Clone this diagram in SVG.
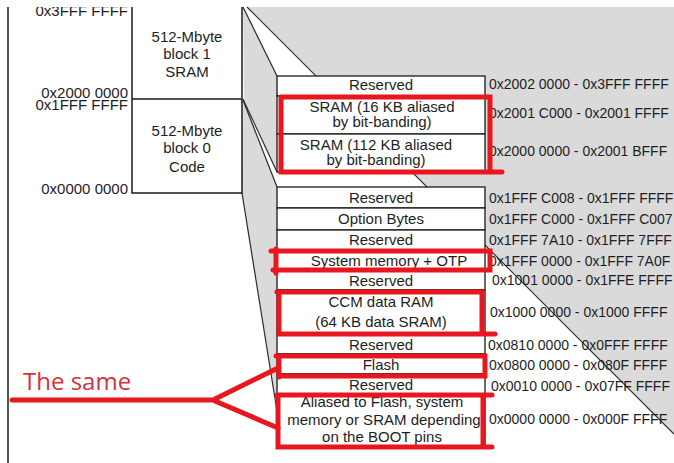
<svg xmlns="http://www.w3.org/2000/svg" width="674" height="463" viewBox="0 0 674 463">
<defs>
<style>
.t{font-family:"Liberation Sans",Arial,sans-serif;font-size:15px;fill:#1e1e1e;text-anchor:middle}
.lbl{font-family:"Liberation Sans",Arial,sans-serif;font-size:15px;fill:#1e1e1e;text-anchor:end}
.ad{font-family:"Liberation Sans",Arial,sans-serif;font-size:14px;fill:#1e1e1e}
.box{fill:#ffffff;stroke:#1a1a1a;stroke-width:1.3}
.ln{stroke:#2a2a2a;stroke-width:1.2;fill:none}
.frame{stroke:#1a1a1a;stroke-width:1.5;fill:none}
.red{stroke:#e8161e;stroke-width:5;fill:none;stroke-linecap:round;stroke-linejoin:miter}
.gray{fill:#dadada}
</style>
<clipPath id="topclip"><rect x="0" y="7" width="674" height="456"/></clipPath>
</defs>
<rect x="0" y="0" width="674" height="463" fill="#ffffff"/>
<g id="background">
<polygon class="gray" points="247,7 674,7 674,434"/>
<polygon class="gray" points="243,7 277,76 277,172 244,99"/>
<polygon class="gray" points="243,101 277,187 277,411 242,193"/>
<line class="frame" x1="8" y1="7" x2="8" y2="463"/>
</g>
<g id="block1">
<path class="frame" d="M132,7 V99 M242,7 V99 M132,99 H242"/>
<text class="t" x="187" y="42">512-Mbyte</text>
<text class="t" x="187" y="59">block 1</text>
<text class="t" x="187" y="77">SRAM</text>
</g>
<g id="block0">
<path class="frame" d="M132,99 V193 H242 V99"/>
<text class="t" x="187" y="136">512-Mbyte</text>
<text class="t" x="187" y="153">block 0</text>
<text class="t" x="187" y="172">Code</text>
</g>
<g id="left-labels" clip-path="url(#topclip)">
<text class="lbl" x="128" y="16">0x3FFF FFFF</text>
<text class="lbl" x="128" y="98">0x2000 0000</text>
<text class="lbl" x="128" y="110">0x1FFF FFFF</text>
<text class="lbl" x="128" y="194">0x0000 0000</text>
</g>
<g id="connectors">
<line class="ln" x1="243" y1="7" x2="277" y2="76"/>
<line class="ln" x1="243" y1="99" x2="277" y2="172"/>
<line class="ln" x1="243" y1="100" x2="277" y2="187"/>
<line class="ln" x1="242" y1="193" x2="277" y2="411"/>
<line class="ln" x1="247" y1="7" x2="674" y2="434"/>
</g>
<g id="sram-detail">
<rect class="box" x="277" y="76" width="208" height="20"/>
<rect class="box" x="277" y="96" width="208" height="38"/>
<rect class="box" x="277" y="134" width="208" height="38"/>
<text class="t" x="381" y="90">Reserved</text>
<text class="t" x="382" y="112">SRAM (16 KB aliased</text>
<text class="t" x="382" y="127">by bit-banding)</text>
<text class="t" x="376" y="150">SRAM (112 KB aliased</text>
<text class="t" x="376" y="165">by bit-banding)</text>
<text class="ad" x="489" y="89">0x2002 0000 - 0x3FFF FFFF</text>
<text class="ad" x="489" y="118">0x2001 C000 - 0x2001 FFFF</text>
<text class="ad" x="489" y="156">0x2000 0000 - 0x2001 BFFF</text>
</g>
<g id="code-detail">
<rect class="box" x="277" y="187" width="208" height="21"/>
<rect class="box" x="277" y="208" width="208" height="22"/>
<rect class="box" x="277" y="230" width="208" height="20"/>
<rect class="box" x="277" y="250" width="208" height="20"/>
<rect class="box" x="277" y="270" width="208" height="20"/>
<rect class="box" x="277" y="290" width="208" height="45"/>
<rect class="box" x="277" y="335" width="208" height="19"/>
<rect class="box" x="277" y="354" width="208" height="20"/>
<rect class="box" x="277" y="374" width="208" height="20"/>
<rect class="box" x="277" y="394" width="208" height="53"/>
<text class="t" x="381" y="203">Reserved</text>
<text class="t" x="381" y="224">Option Bytes</text>
<text class="t" x="381" y="245">Reserved</text>
<text class="t" x="389" y="266">System memory + OTP</text>
<text class="t" x="381" y="286">Reserved</text>
<text class="t" x="381" y="307">CCM data RAM</text>
<text class="t" x="381" y="327">(64 KB data SRAM)</text>
<text class="t" x="381" y="350">Reserved</text>
<text class="t" x="381" y="370">Flash</text>
<text class="t" x="381" y="390">Reserved</text>
<text class="t" x="382" y="407">Aliased to Flash, system</text>
<text class="t" x="384" y="425">memory or SRAM depending</text>
<text class="t" x="382" y="442">on the BOOT pins</text>
<text class="ad" x="489" y="203">0x1FFF C008 - 0x1FFF FFFF</text>
<text class="ad" x="489" y="224">0x1FFF C000 - 0x1FFF C007</text>
<text class="ad" x="489" y="245">0x1FFF 7A10 - 0x1FFF 7FFF</text>
<text class="ad" x="489" y="266">0x1FFF 0000 - 0x1FFF 7A0F</text>
<text class="ad" x="492" y="285">0x1001 0000 - 0x1FFE FFFF</text>
<text class="ad" x="490" y="317">0x1000 0000 - 0x1000 FFFF</text>
<text class="ad" x="488" y="350">0x0810 0000 - 0x0FFF FFFF</text>
<text class="ad" x="489" y="370">0x0800 0000 - 0x080F FFFF</text>
<text class="ad" x="491" y="391">0x0010 0000 - 0x07FF FFFF</text>
<text class="ad" x="489" y="424">0x0000 0000 - 0x000F FFFF</text>
</g>
<g id="annotations">
<path class="red" d="M281,97 H490 V171 M281,97 V172 H502"/>
<path class="red" d="M271,251 H490 V270 H273 M276,249 V273"/>
<path class="red" d="M277,292 H482 V334 M279,292 V334 H495"/>
<path class="red" d="M276,356 H485 V376 H279 M279,356 V377"/>
<path class="red" d="M277,395 H492 M483,395 V447 M278,395 V447 H492"/>
<path class="red" d="M12,400 H215 M215,399 L278,368 M215,401 L278,428"/>
<text x="23" y="390" style="font-family:'Open Sans','Liberation Sans',sans-serif;font-size:24px;fill:#d6313a">The same</text>
</g>
</svg>
